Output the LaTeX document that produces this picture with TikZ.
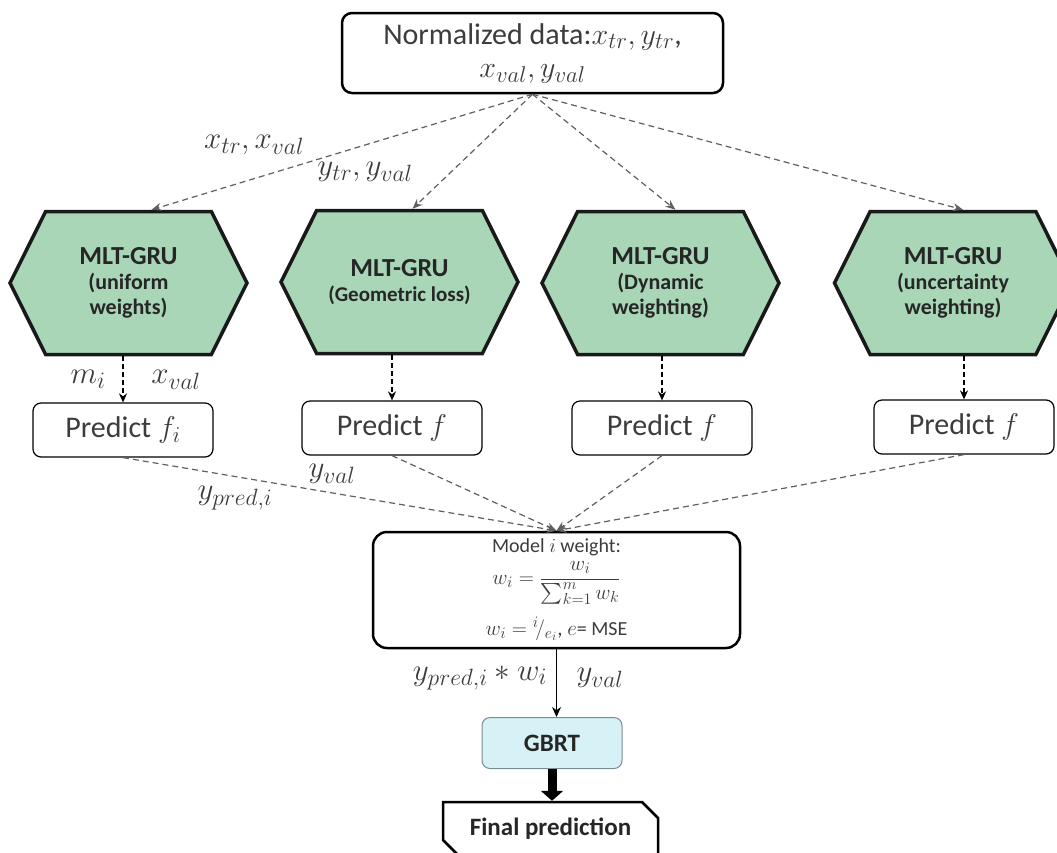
\RequirePackage{fix-cm}
\documentclass[tikz,border=0pt]{standalone}
\usepackage{amsmath}
\usepackage{fontspec}
\setmainfont{Carlito}
\usetikzlibrary{
  arrows.meta,
  positioning,
  shapes.symbols,
  shapes.misc
}
% slightly larger sub- and superscripts
\def\defaultscriptratio{.76}
\def\defaultscriptscriptratio{.6}

\definecolor{hexgreen}{RGB}{168,214,183}
\definecolor{gbrtcyan}{RGB}{214,242,246}
\definecolor{gbrtedge}{RGB}{120,140,145}
\definecolor{flowgray}{RGB}{95,95,95}
\definecolor{inkgray}{RGB}{60,60,60}

\begin{document}
\begin{tikzpicture}[
  x=1pt, y=-1pt,
  databox/.style={
    rectangle, rounded corners=10pt, draw=black, line width=2.5pt,
    minimum width=381pt, minimum height=80pt, align=center,
    text=inkgray, font=\fontsize{30}{33}\selectfont
  },
  model/.style={
    signal, signal to=east and west, signal pointer angle=127,
    draw=black!90, line width=3.5pt, fill=hexgreen,
    minimum width=237pt, minimum height=143pt, align=center,
    text=black!85, font=\bfseries\fontsize{22}{25}\selectfont
  },
  predbox/.style={
    rectangle, rounded corners=8pt, draw=black, line width=1.2pt,
    minimum width=180pt, minimum height=54pt,
    text=inkgray, font=\fontsize{30}{33}\selectfont
  },
  weightbox/.style={
    rectangle, rounded corners=14pt, draw=black, line width=2.5pt,
    minimum width=367pt, minimum height=116pt, align=center,
    text=inkgray, font=\fontsize{20}{24}\selectfont
  },
  gbrtbox/.style={
    rectangle, rounded corners=8pt, draw=gbrtedge, line width=1pt,
    fill=gbrtcyan, minimum width=140pt, minimum height=51pt,
    text=black!85, font=\bfseries\fontsize{25}{28}\selectfont
  },
  finalbox/.style={
    chamfered rectangle, chamfered rectangle corners={north east, south west},
    chamfered rectangle xsep=8pt, chamfered rectangle ysep=8pt,
    draw=black, line width=2.5pt, minimum width=215pt, minimum height=54pt,
    text=black!85, font=\bfseries\fontsize{25}{28}\selectfont
  },
  lbl/.style={text=inkgray, font=\fontsize{31}{34}\selectfont},
  feed/.style={-{Stealth[length=10pt,width=8pt]}, flowgray, line width=1.2pt,
    dash pattern=on 6pt off 4pt},
  pass/.style={-{Stealth[length=9pt,width=8pt]}, black, line width=1.6pt,
    dash pattern=on 5pt off 3pt},
  solidarrow/.style={-{Stealth[length=10pt,width=9pt]}, black, line width=1.4pt},
  bigarrow/.style={-{Triangle[length=10pt,width=22pt]}, black, line width=9pt},
]
\useasboundingbox (0,0) rectangle (1057,852);

% Input data
\node[databox] (data) at (532.5,53)
  {Normalized data:$x_{tr}, y_{tr}$,\\$x_{val}, y_{val}$};

% The four MLT-GRU models
\node[model] (gru1) at (128.5,283)
  {{\fontsize{26}{30}\selectfont MLT-GRU}\\(uniform\\weights)};
\node[model] (gru2) at (399.5,282)
  {{\fontsize{26}{30}\selectfont MLT-GRU}\\{\fontsize{21}{25}\selectfont (Geometric loss)}};
\node[model] (gru3) at (660.5,283)
  {{\fontsize{26}{30}\selectfont MLT-GRU}\\(Dynamic\\weighting)};
\node[model] (gru4) at (953,283)
  {{\fontsize{26}{30}\selectfont MLT-GRU}\\(uncertainty\\weighting)};

% Predictions
\node[predbox] (pred1) at (123,430) {Predict $f_i$};
\node[predbox] (pred2) at (392,428) {Predict $f$};
\node[predbox] (pred3) at (662,428) {Predict $f$};
\node[predbox] (pred4) at (964,427) {Predict $f$};

% Weighting
\node[weightbox] (weight) at (556.5,590)
  {Model $i$ weight:\\[4pt]
   {\fontsize{21}{24}\selectfont $w_i = \dfrac{w_i}{\sum\nolimits_{k=1}^{m} w_k}$}\\[11pt]
   {\fontsize{21}{24}\selectfont $w_i = {}^{i}\!/_{e_i}$,\ $e$}= MSE};

% GBRT and output
\node[gbrtbox] (gbrt) at (552,743) {GBRT};
\node[finalbox] (final) at (550.5,829) {Final prediction};

% Edge labels
\node[lbl] (lxtr)   at (254,145) {$x_{tr}, x_{val}$};
\node[lbl] (lytr)   at (365,172) {$y_{tr}, y_{val}$};
\node[lbl] (lmi)    at (88,379)  {$m_i$};
\node[lbl] (lxval)  at (176,380) {$x_{val}$};
\node[lbl] (lyval)  at (332,474) {$y_{val}$};
\node[lbl] (lypred) at (235,498) {$y_{pred,i}$};
\node[lbl] (lyw)    at (480,678) {$y_{pred,i} * w_i$};
\node[lbl] (lyv2)   at (600,678) {$y_{val}$};

% Flows
\foreach \i/\dx in {1/23, 2/13, 3/15, 4/10} {
  \draw[feed] (data.south) -- ([xshift=\dx pt]gru\i.north);
  \draw[pass] (pred\i.north |- gru\i.south) -- (pred\i.north);
  \draw[feed] (pred\i.south) -- (weight.north);
}
\draw[solidarrow] (weight.south) -- (weight.south |- gbrt.north);
\draw[bigarrow] (gbrt.south) -- (gbrt.south |- final.north);

\end{tikzpicture}
\end{document}
